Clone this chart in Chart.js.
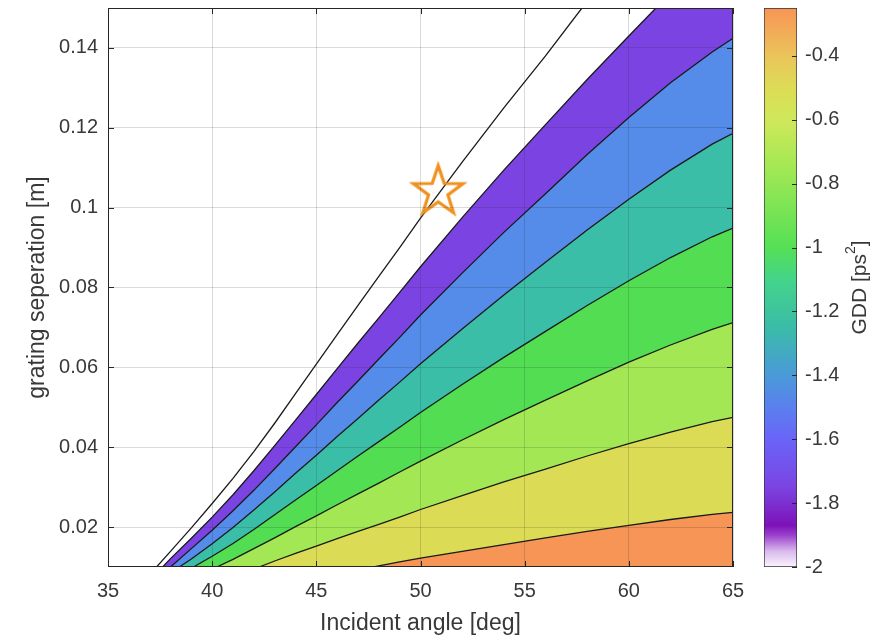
<!DOCTYPE html>
<html>
<head>
<meta charset="utf-8">
<title>GDD vs incident angle and grating separation</title>
<script src="https://cdn.jsdelivr.net/npm/chart.js@4.4.1/dist/chart.umd.min.js"></script>
<style>
  html, body { margin: 0; padding: 0; background: #fff; }
  #wrap { position: relative; width: 884px; height: 640px; }
  #main { position: absolute; left: 0; top: 0; }
  #bar { position: absolute; left: 750px; top: 0; }
</style>
</head>
<body>
<div id="wrap">
  <canvas id="main" width="750" height="640"></canvas>
  <canvas id="bar" width="134" height="640"></canvas>
</div>
<script>
// contour levels (GDD, ps^2) and the fill colour of the band just above each level
const levels = [-2, -1.75, -1.5, -1.25, -1, -0.75, -0.5, -0.25];
const bandColors = ["#ffffff", "#7b44e2", "#558be9", "#3bbea8", "#53dd53", "#a3e854", "#dbdb56", "#f69556"];

// contour lines: incident angle [deg] -> grating separation [m]
const angle200 = [37.33, 38, 39, 40, 41, 42, 43, 44, 45, 46, 47, 48, 49, 50, 52, 54, 56, 57.75];
const sep200   = [0.01, 0.0139, 0.0198, 0.0259, 0.0322, 0.0389, 0.046, 0.0534, 0.0608, 0.0682, 0.0755, 0.0828, 0.09, 0.0974, 0.1114, 0.125, 0.138, 0.15];
const angle175 = [37.62, 38, 39, 40, 41, 42, 43, 44, 45, 46, 47, 48, 49, 50, 52, 54, 56, 58, 60, 61.3];
const sep175   = [0.01, 0.0121, 0.0172, 0.0225, 0.0281, 0.0341, 0.0404, 0.0468, 0.0532, 0.0597, 0.0661, 0.0724, 0.0788, 0.0852, 0.0975, 0.1094, 0.1208, 0.1321, 0.143, 0.15];
const angle150 = [38, 39, 40, 41, 42, 43, 44, 45, 46, 47, 48, 49, 50, 52, 54, 56, 58, 60, 62, 64, 65];
const sep150   = [0.01, 0.0146, 0.0192, 0.0241, 0.0292, 0.0346, 0.0401, 0.0456, 0.0512, 0.0566, 0.0621, 0.0675, 0.0731, 0.0836, 0.0938, 0.1035, 0.1133, 0.1226, 0.1313, 0.139, 0.1424];
const angle125 = [38.42, 39, 40, 41, 42, 43, 44, 45, 46, 47, 48, 49, 50, 52, 54, 56, 58, 60, 62, 64, 65];
const sep125   = [0.01, 0.012, 0.0158, 0.0199, 0.0243, 0.0288, 0.0335, 0.038, 0.0427, 0.0472, 0.0518, 0.0563, 0.0609, 0.0696, 0.0781, 0.0863, 0.0944, 0.1021, 0.1094, 0.1159, 0.1186];
const angle100 = [39.1, 40, 41, 42, 43, 44, 45, 46, 47, 48, 49, 50, 52, 54, 56, 58, 60, 62, 64, 65];
const sep100   = [0.01, 0.0127, 0.0159, 0.0194, 0.0231, 0.0268, 0.0304, 0.0341, 0.0378, 0.0414, 0.045, 0.0487, 0.0557, 0.0625, 0.069, 0.0755, 0.0817, 0.0875, 0.0927, 0.0949];
const angle075 = [40.22, 41, 42, 43, 44, 45, 46, 47, 48, 49, 50, 52, 54, 56, 58, 60, 62, 64, 65];
const sep075   = [0.01, 0.0119, 0.0146, 0.0173, 0.0201, 0.0228, 0.0256, 0.0283, 0.031, 0.0338, 0.0365, 0.0418, 0.0469, 0.0518, 0.0566, 0.0613, 0.0656, 0.0695, 0.0712];
const angle050 = [42.25, 43, 44, 45, 46, 47, 48, 49, 50, 52, 54, 56, 58, 60, 62, 64, 65];
const sep050   = [0.01, 0.0115, 0.0134, 0.0152, 0.0171, 0.0189, 0.0207, 0.0225, 0.0244, 0.0279, 0.0313, 0.0345, 0.0378, 0.0409, 0.0438, 0.0464, 0.0475];
const angle025 = [47.75, 48, 49, 50, 52, 54, 56, 58, 60, 62, 64, 65];
const sep025   = [0.01, 0.0103, 0.0113, 0.0122, 0.0139, 0.0156, 0.0173, 0.0189, 0.0204, 0.0219, 0.0232, 0.0237];

// marked operating point
const starAngle = [50.85];
const starSep = [0.104];

// axes
const angleMin = 35, angleMax = 65;
const sepMin = 0.01, sepMax = 0.15;
const xTicks = [35, 40, 45, 50, 55, 60, 65];
const yTicks = [0.02, 0.04, 0.06, 0.08, 0.1, 0.12, 0.14];

// colour bar
const gddMin = -2, gddMax = -0.25;
const gddTicks = [-2, -1.8, -1.6, -1.4, -1.2, -1, -0.8, -0.6, -0.4];
const cmapValues = [-2, -1.95, -1.9, -1.87, -1.75, -1.6, -1.5, -1.4, -1.25, -1.1, -1, -0.75, -0.6, -0.5, -0.4, -0.25];
const cmapColors = ["#fbf5fd", "#d8b8ec", "#9a40cc", "#7d12b8", "#7b44e2", "#6a64f8", "#5a80ee", "#4a9ad8",
                    "#3abca8", "#44d48a", "#55e055", "#a3e854", "#cfe85a", "#dcdc56", "#ebc45a", "#f89456"];

const FONT = "'Liberation Sans', Arial, Helvetica, sans-serif";
const TEXT = "#383838";

const contours = [
  [angle200, sep200], [angle175, sep175], [angle150, sep150], [angle125, sep125],
  [angle100, sep100], [angle075, sep075], [angle050, sep050], [angle025, sep025]
];

// each line is filled down to the x axis; later (higher) levels are painted over earlier ones
const contourSets = contours.map(function (c, i) {
  const pts = c[0].map(function (a, j) { return { x: a, y: c[1][j] }; });
  if (c[1][c[1].length - 1] >= sepMax) pts.push({ x: angleMax, y: sepMax });
  return {
    label: "GDD " + levels[i],
    data: pts,
    borderColor: "#1a1a1a",
    borderWidth: 1.3,
    backgroundColor: bandColors[i],
    fill: i === 0 ? false : "start",
    pointRadius: 0,
    tension: 0,
    order: contours.length - i + 1
  };
});

// outlined five-point star used as the marker
const starImg = document.createElement("canvas");
starImg.width = 64; starImg.height = 64;
(function () {
  const c = starImg.getContext("2d");
  const R = 26, r = 10.2;
  c.beginPath();
  for (let k = 0; k < 10; k++) {
    const rad = k % 2 === 0 ? R : r;
    const a = -Math.PI / 2 + k * Math.PI / 5;
    const px = 32 + rad * Math.cos(a), py = 32 + rad * Math.sin(a);
    if (k === 0) c.moveTo(px, py); else c.lineTo(px, py);
  }
  c.closePath();
  c.strokeStyle = "#f0901e";
  c.lineWidth = 3.2;
  c.lineJoin = "miter";
  c.stroke();
})();

// fixed axis sizes so the plot box sits where the original one is
function fixX(h) {
  return function (s) { s.height = h; s.paddingLeft = 0; s.paddingRight = 0; };
}
function fixY(w) {
  return function (s) { s.width = w; s.paddingTop = 0; s.paddingBottom = 0; };
}

const boxPlugin = {
  id: "box",
  afterDraw(chart) {
    const { ctx, chartArea: a, scales } = chart;
    ctx.save();
    ctx.strokeStyle = "#262626";
    ctx.lineWidth = 1;
    ctx.beginPath();
    xTicks.forEach(function (v) {
      const px = Math.round(scales.x.getPixelForValue(v)) + 0.5;
      ctx.moveTo(px, a.bottom); ctx.lineTo(px, a.bottom - 6);
      ctx.moveTo(px, a.top); ctx.lineTo(px, a.top + 6);
    });
    yTicks.forEach(function (v) {
      const py = Math.round(scales.y.getPixelForValue(v)) + 0.5;
      ctx.moveTo(a.left, py); ctx.lineTo(a.left + 6, py);
      ctx.moveTo(a.right, py); ctx.lineTo(a.right - 6, py);
    });
    ctx.stroke();
    ctx.strokeRect(Math.round(a.left) + 0.5, Math.round(a.top) + 0.5,
      Math.round(a.right - a.left) - 1, Math.round(a.bottom - a.top) - 1);
    ctx.restore();
  }
};

new Chart(document.getElementById("main"), {
  type: "line",
  data: {
    datasets: contourSets.concat([{
      label: "operating point",
      data: starAngle.map(function (a, j) { return { x: a, y: starSep[j] }; }),
      showLine: false,
      pointStyle: starImg,
      pointRadius: 27,
      clip: false,
      order: 0
    }])
  },
  options: {
    responsive: false,
    animation: false,
    layout: { autoPadding: false, padding: { left: 0, top: 8, right: 17, bottom: 0 } },
    plugins: { legend: { display: false }, tooltip: { enabled: false } },
    scales: {
      x: {
        type: "linear",
        min: angleMin,
        max: angleMax,
        afterBuildTicks: function (s) { s.ticks = xTicks.map(function (v) { return { value: v }; }); },
        afterFit: fixX(73),
        grid: { color: "rgba(38,38,38,0.17)", z: 1, drawTicks: false },
        border: { display: false },
        ticks: { padding: 12, color: TEXT, font: { family: FONT, size: 20 }, callback: function (v) { return String(v); } },
        title: { display: true, text: "Incident angle [deg]", color: TEXT, font: { family: FONT, size: 23 }, padding: { top: 0, bottom: 3 } }
      },
      y: {
        type: "linear",
        min: sepMin,
        max: sepMax,
        afterBuildTicks: function (s) { s.ticks = yTicks.map(function (v) { return { value: v }; }); },
        afterFit: fixY(108),
        grid: { color: "rgba(38,38,38,0.17)", z: 1, drawTicks: false },
        border: { display: false },
        ticks: { padding: 10, color: TEXT, font: { family: FONT, size: 20 }, callback: function (v) { return String(+v.toFixed(2)); } },
        title: { display: true, text: "grating seperation [m]", color: TEXT, font: { family: FONT, size: 23 }, padding: { top: 24, bottom: 0 } }
      }
    }
  },
  plugins: [boxPlugin]
});

const cbarPlugin = {
  id: "cbarTitle",
  afterDraw(chart) {
    const { ctx, chartArea: a, scales } = chart;
    ctx.save();
    ctx.strokeStyle = "#262626";
    ctx.lineWidth = 1;
    ctx.beginPath();
    gddTicks.forEach(function (v) {
      const py = Math.round(scales.y.getPixelForValue(v)) + 0.5;
      ctx.moveTo(a.right, py); ctx.lineTo(a.right - 5, py);
    });
    ctx.stroke();
    ctx.translate(110, (a.top + a.bottom) / 2);
    ctx.rotate(-Math.PI / 2);
    ctx.fillStyle = TEXT;
    ctx.textBaseline = "middle";
    ctx.font = "21px " + FONT;
    const t1 = "GDD [ps", t3 = "]";
    const w1 = ctx.measureText(t1).width, w3 = ctx.measureText(t3).width;
    ctx.font = "14px " + FONT;
    const w2 = ctx.measureText("2").width;
    const x0 = -(w1 + w2 + w3) / 2;
    ctx.font = "21px " + FONT;
    ctx.fillText(t1, x0, 0);
    ctx.fillText(t3, x0 + w1 + w2, 0);
    ctx.font = "14px " + FONT;
    ctx.fillText("2", x0 + w1, -9);
    ctx.restore();
  }
};

new Chart(document.getElementById("bar"), {
  type: "bar",
  data: {
    labels: [""],
    datasets: [{
      data: [[gddMin, gddMax]],
      backgroundColor: function (ctx) {
        const chart = ctx.chart;
        if (!chart.chartArea) return "transparent";
        const y = chart.scales.y;
        const g = chart.ctx.createLinearGradient(0, y.getPixelForValue(gddMin), 0, y.getPixelForValue(gddMax));
        cmapValues.forEach(function (v, i) { g.addColorStop((v - gddMin) / (gddMax - gddMin), cmapColors[i]); });
        return g;
      },
      borderColor: "#333333",
      borderWidth: 1,
      borderSkipped: false,
      barPercentage: 1,
      categoryPercentage: 1
    }]
  },
  options: {
    responsive: false,
    animation: false,
    layout: { padding: { left: 14, top: 8, right: 0, bottom: 73 } },
    plugins: { legend: { display: false }, tooltip: { enabled: false } },
    scales: {
      x: { display: false },
      y: {
        position: "right",
        min: gddMin,
        max: gddMax,
        afterBuildTicks: function (s) { s.ticks = gddTicks.map(function (v) { return { value: v }; }); },
        afterFit: fixY(87),
        grid: { drawOnChartArea: false, drawTicks: false },
        border: { display: false },
        ticks: { padding: 8, color: TEXT, font: { family: FONT, size: 20 }, callback: function (v) { return String(+v.toFixed(2)); } }
      }
    }
  },
  plugins: [cbarPlugin]
});
</script>
</body>
</html>
